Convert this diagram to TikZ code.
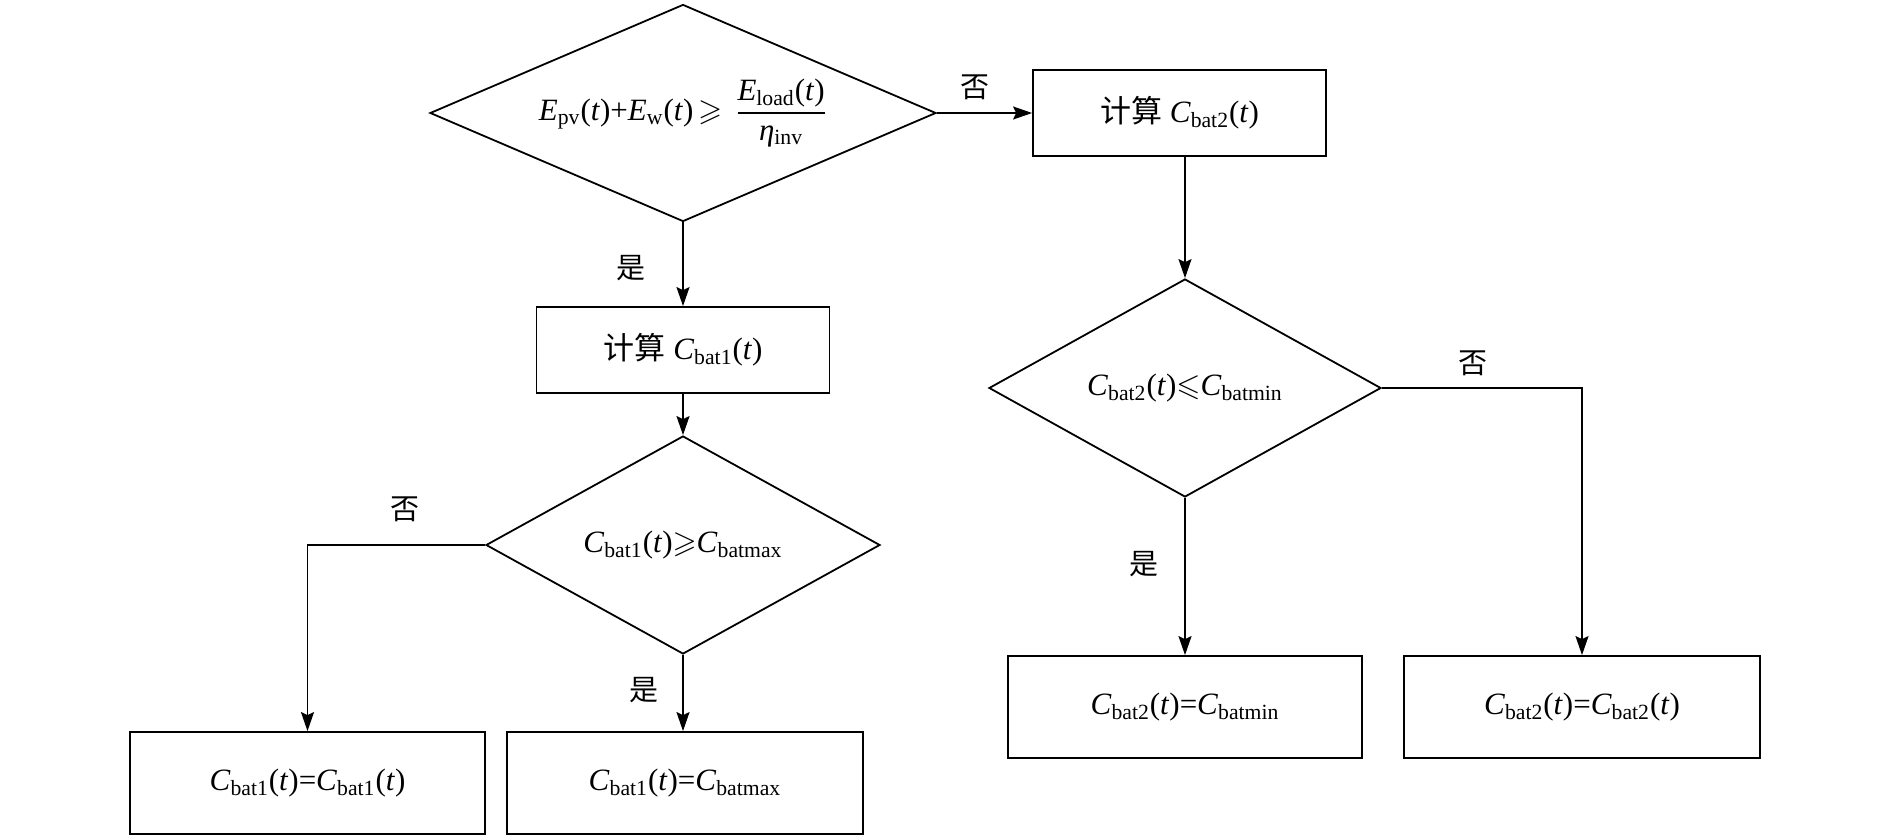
\documentclass[tikz,border=0pt]{standalone}
\usepackage{fontspec}
\usepackage{amssymb}
\setmainfont{Liberation Serif}
\newfontfamily\cjk{Noto Sans CJK SC}
\usetikzlibrary{shapes.geometric,arrows.meta}
\newcommand{\myit}[1]{\textit{#1}}
\newcommand{\mycb}[1]{\textit{C}\textsubscript{#1}}
\begin{document}
\begin{tikzpicture}[x=0.5pt,y=-0.5pt,
  font=\fontsize{15.5}{18}\selectfont,
  stepbox/.style={draw, line width=0.9pt, inner sep=0pt},
  decision/.style={diamond, draw, line width=0.9pt, inner sep=0pt, aspect=2},
  arr/.style={-{Stealth[length=9.5pt,width=6.5pt,inset=1.5pt]}, line width=0.8pt},
  lab/.style={font=\cjk\fontsize{14.5}{18}\selectfont, inner sep=0pt}]
\useasboundingbox (0,0) rectangle (1890,840);
\node[decision, minimum width=253pt, minimum height=108.5pt] (d1) at (683,113)
  {\myit{E}\textsubscript{pv}(\myit{t})+\myit{E}\textsubscript{w}(\myit{t})$\,\geqslant\,\displaystyle\frac{\mbox{\myit{E}\textsubscript{load}(\myit{t})}}{\mbox{\myit{η}\textsubscript{inv}}}$};
\node[stepbox, minimum width=146.5pt, minimum height=43pt] (b2) at (1179.5,113)
  {{\cjk 计算} \mycb{bat2}(\myit{t})};
\node[stepbox, minimum width=146.5pt, minimum height=43pt] (b1) at (683,350)
  {{\cjk 计算} \mycb{bat1}(\myit{t})};
\node[decision, minimum width=197pt, minimum height=109pt] (d2) at (683,545)
  {\mycb{bat1}(\myit{t})$\geqslant$\mycb{batmax}};
\node[decision, minimum width=196pt, minimum height=109pt] (d3) at (1185,388)
  {\mycb{bat2}(\myit{t})$\leqslant$\mycb{batmin}};
\node[stepbox, minimum width=177.5pt, minimum height=51pt] (b3) at (307.5,783)
  {\mycb{bat1}(\myit{t})=\mycb{bat1}(\myit{t})};
\node[stepbox, minimum width=178pt, minimum height=51pt] (b4) at (685,783)
  {\mycb{bat1}(\myit{t})=\mycb{batmax}};
\node[stepbox, minimum width=177pt, minimum height=51pt] (b5) at (1185,707)
  {\mycb{bat2}(\myit{t})=\mycb{batmin}};
\node[stepbox, minimum width=178pt, minimum height=51pt] (b6) at (1582,707)
  {\mycb{bat2}(\myit{t})=\mycb{bat2}(\myit{t})};
\draw[arr] (d1.east) -- (b2.west);
\draw[arr] (d1.south) -- (b1.north);
\draw[arr] (b1.south) -- (d2.north);
\draw[arr] (d2.west) -| (b3.north);
\draw[arr] (d2.south) -- (b4.north -| d2.south);
\draw[arr] (b2.south -| d3.north) -- (d3.north);
\draw[arr] (d3.south) -- (b5.north);
\draw[arr] (d3.east) -| (b6.north);
\node[lab] (l1) at (975,87) {否};
\node[lab] (l2) at (631,268) {是};
\node[lab] (l3) at (405,509) {否};
\node[lab] (l4) at (644,690) {是};
\node[lab] (l5) at (1144,564) {是};
\node[lab] (l6) at (1473,363) {否};
\end{tikzpicture}
\end{document}
